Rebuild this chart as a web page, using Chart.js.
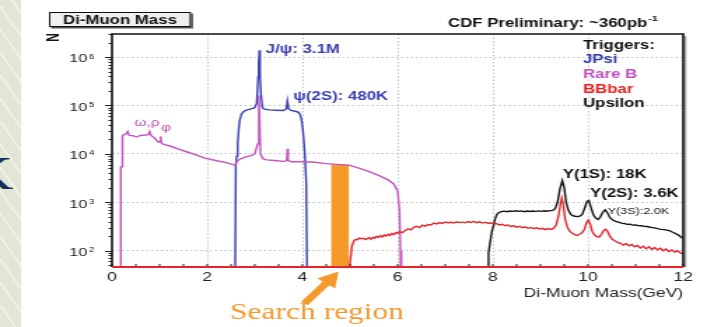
<!DOCTYPE html>
<html>
<head>
<meta charset="utf-8">
<title>Di-Muon Mass</title>
<script src="https://cdn.jsdelivr.net/npm/chart.js@4.4.1/dist/chart.umd.min.js"></script>
<style>
  html, body { margin: 0; padding: 0; background: #fff; overflow: hidden; }
  /* the slide picture is stretched sideways, so draw narrow and widen it */
  #stage { position: absolute; left: 0; top: 0; width: 503px; height: 327px;
           transform: scaleX(1.4); transform-origin: 0 0; }
  #chart { display: block; }
</style>
</head>
<body>
<div id="stage"><canvas id="chart" width="503" height="327"></canvas></div>
<script>
// JPsi trigger (blue)
const jpsiMass = [2.58, 2.60, 2.62, 2.64, 2.66, 2.68, 2.72, 2.76, 2.82, 2.90, 3.00, 3.04, 3.07, 3.08, 3.095, 3.11, 3.13, 3.16, 3.20, 3.30, 3.45, 3.60, 3.66, 3.685, 3.71, 3.76, 3.85, 3.92, 3.96, 3.99, 4.02, 4.05, 4.08, 4.11]
const jpsiCount = [1, 5800, 9000, 16000, 30000, 48000, 66000, 74000, 80000, 84000, 90000, 110000, 390000, 700000, 1380000, 400000, 170000, 90000, 84000, 81000, 80000, 79000, 85000, 125000, 86000, 79000, 76000, 72000, 62000, 45000, 25000, 10000, 2500, 1]

// Rare B trigger (magenta)
const rareBMass = [0.18, 0.185, 0.21, 0.22, 0.26, 0.30, 0.33, 0.36, 0.45, 0.52, 0.60, 0.70, 0.76, 0.79, 0.82, 0.90, 0.97, 1.00, 1.02, 1.04, 1.10, 1.25, 1.40, 1.55, 1.75, 1.95, 2.20, 2.40, 2.59, 2.62, 2.70, 2.80, 2.92, 3.00, 3.06, 3.085, 3.10, 3.12, 3.17, 3.25, 3.40, 3.60, 3.67, 3.685, 3.70, 3.76, 3.90, 4.20, 4.50, 4.80, 5.00, 5.20, 5.40, 5.60, 5.80, 5.92, 6.00, 6.04, 6.06, 6.08]
const rareBCount = [1, 5400, 5400, 24000, 25000, 26000, 29000, 24000, 23500, 22500, 24000, 24500, 25000, 29000, 24000, 21000, 17500, 18000, 23000, 16500, 15500, 14200, 12600, 11200, 9600, 8200, 7200, 6600, 5800, 7000, 7900, 8600, 9200, 10000, 16000, 162000, 60000, 10000, 7900, 7500, 7300, 7000, 7200, 12700, 7400, 6900, 6900, 6800, 6300, 6000, 5800, 5000, 4300, 3600, 2900, 2400, 1700, 700, 100, 1]

// BBbar trigger (red)
const bbbarMass = [4.99, 5.00, 5.04, 5.08, 5.12, 5.16, 5.20, 5.24, 5.28, 5.32, 5.36, 5.40, 5.44, 5.48, 5.52, 5.56, 5.60, 5.64, 5.68, 5.72, 5.76, 5.80, 5.84, 5.88, 5.92, 5.96, 6.00,
  6.04, 6.10, 6.16, 6.22, 6.28, 6.34, 6.40, 6.46, 6.52, 6.58, 6.64, 6.70, 6.76, 6.82, 6.88, 6.94, 7.00, 7.06, 7.12, 7.18, 7.24, 7.30, 7.36, 7.42, 7.48, 7.54, 7.60, 7.66, 7.72, 7.78, 7.84, 7.90, 7.96,
  8.02, 8.08, 8.14, 8.20, 8.26, 8.32, 8.38, 8.44, 8.50, 8.56, 8.62, 8.68, 8.74, 8.80, 8.86, 8.92, 8.98, 9.04, 9.10, 9.16, 9.22, 9.28,
  9.33, 9.38, 9.42, 9.45, 9.48, 9.52, 9.57, 9.62, 9.67, 9.72, 9.77, 9.82, 9.87, 9.92, 9.97,
  10.01, 10.05, 10.09, 10.14, 10.19, 10.24, 10.29, 10.33, 10.37, 10.41, 10.46, 10.51, 10.56,
  10.62, 10.68, 10.74, 10.80, 10.86, 10.92, 10.98, 11.04, 11.10, 11.16, 11.22, 11.28, 11.34, 11.40, 11.46, 11.52, 11.58, 11.64, 11.70, 11.76, 11.82, 11.88, 11.94, 11.99]
const bbbarCount = [1, 55, 125, 158, 172, 168, 184, 176, 181, 170, 178, 186, 172, 190, 181, 198, 187, 205, 192, 210, 201, 218, 206, 226, 214, 236, 228,
  248, 236, 262, 284, 270, 305, 318, 300, 336, 322, 348, 338, 372, 356, 380, 366, 392, 378, 386, 372, 395, 380, 388, 376, 398, 384, 402, 380, 395, 372, 388, 366, 378,
  356, 362, 340, 352, 328, 338, 316, 326, 306, 318, 298, 310, 290, 302, 284, 296, 280, 290, 272, 286, 274, 292,
  340, 520, 900, 1220, 900, 440, 300, 250, 228, 214, 206, 218, 232, 270, 380,
  430, 350, 250, 208, 196, 192, 225, 262, 277, 250, 200, 172, 160,
  148, 142, 130, 140, 126, 134, 120, 128, 114, 124, 110, 120, 106, 116, 104, 112, 100, 108, 96, 104, 94, 100, 90, 86]

// Upsilon trigger (black)
const upsilonMass = [7.90, 7.91, 7.94, 7.98, 8.01, 8.05, 8.08, 8.12, 8.18, 8.24, 8.30, 8.36, 8.42, 8.48, 8.54, 8.60, 8.66, 8.72, 8.78, 8.84, 8.90, 8.96, 9.02, 9.08, 9.14, 9.20, 9.26,
  9.31, 9.36, 9.41, 9.46, 9.50, 9.54, 9.59, 9.64, 9.70, 9.76, 9.82, 9.88, 9.93, 9.98,
  10.02, 10.06, 10.11, 10.16, 10.21, 10.26, 10.31, 10.36, 10.41, 10.46,
  10.52, 10.58, 10.64, 10.70, 10.76, 10.82, 10.88, 10.94, 11.00, 11.06, 11.12, 11.18, 11.24, 11.30, 11.36, 11.42, 11.48, 11.54, 11.60, 11.66, 11.72, 11.78, 11.84, 11.90, 11.95, 11.99]
const upsilonCount = [1, 90, 142, 250, 315, 460, 550, 610, 640, 655, 640, 660, 648, 666, 650, 662, 640, 658, 645, 662, 648, 665, 650, 668, 655, 672, 680,
  740, 1000, 1900, 2800, 2000, 1000, 680, 560, 520, 505, 515, 560, 760, 1050,
  1090, 800, 560, 470, 440, 500, 620, 695, 600, 480,
  430, 405, 388, 372, 365, 350, 352, 338, 340, 330, 328, 318, 315, 305, 300, 292, 282, 276, 272, 266, 258, 240, 226, 210, 192, 180]

// search window (orange band)
const searchMass = [4.60, 4.98]
const searchCount = [6000, 6000]

const massLabels = [0, 2, 4, 6, 8, 10, 12]
const countExponents = [2, 3, 4, 5, 6]

const pts = (xs, ys) => xs.map((x, i) => ({x: x, y: ys[i]}))
const isDecade = v => Math.abs(Math.log10(v) - Math.round(Math.log10(v))) < 1e-9
const font = (size, bold) => (bold ? 'bold ' : '') + size + 'px "Liberation Sans", Arial, sans-serif'

const decor = {
  id: 'decor',
  beforeDraw(chart) {
    const c = chart.ctx
    c.save()
    c.fillStyle = '#fff'
    c.fillRect(0, 0, chart.width, chart.height)
    // bit of the slide background on the left
    c.fillStyle = '#e3e6d4'
    c.fillRect(0, 0, 15, chart.height)
    c.strokeStyle = 'rgba(250,251,244,0.7)'
    c.lineWidth = 1.5
    for (let k = -40; k < 340; k += 23) {
      c.beginPath(); c.moveTo(0, k); c.lineTo(15, k + 30); c.stroke()
    }
    c.fillStyle = '#12305c'
    c.font = '46px "Liberation Serif", "Times New Roman", serif'
    c.textAlign = 'right'
    c.fillText('K', 9.6, 189)
    c.restore()
  },
  afterDatasetsDraw(chart) {
    const c = chart.ctx, a = chart.chartArea
    const xs = chart.scales.x, ys = chart.scales.y
    c.save()
    c.strokeStyle = '#222'
    c.lineWidth = 1
    ys.ticks.forEach(t => {
      const y = Math.round(ys.getPixelForValue(t.value)) + 0.5
      const len = isDecade(t.value) ? 5 : 2.5
      c.beginPath(); c.moveTo(a.left - len, y); c.lineTo(a.left, y); c.stroke()
    })
    xs.ticks.forEach(t => {
      const x = xs.getPixelForValue(t.value)
      c.beginPath(); c.moveTo(x, a.bottom); c.lineTo(x, a.bottom - 3); c.stroke()
    })
    // frame with a little shadow on the right
    c.strokeStyle = '#9a9a9a'
    c.lineWidth = 1.2
    c.beginPath(); c.moveTo(a.right + 1.6, a.top + 2); c.lineTo(a.right + 1.6, a.bottom); c.stroke()
    c.strokeStyle = '#111'
    c.lineWidth = 1.6
    c.beginPath()
    c.moveTo(a.left, a.bottom); c.lineTo(a.left, a.top); c.lineTo(a.right, a.top); c.lineTo(a.right, a.bottom)
    c.stroke()
    // empty BBbar bins lie on the floor
    c.strokeStyle = '#e3262b'
    c.lineWidth = 2
    c.beginPath(); c.moveTo(a.left, a.bottom); c.lineTo(a.right, a.bottom); c.stroke()
    c.restore()
  },
  afterDraw(chart) {
    const c = chart.ctx, xs = chart.scales.x, ys = chart.scales.y
    c.save()
    c.textBaseline = 'alphabetic'

    // axis labels
    c.fillStyle = '#222'
    countExponents.forEach(e => {
      const y = ys.getPixelForValue(Math.pow(10, e))
      c.font = font(11.5)
      c.textAlign = 'right'
      c.fillText('10', 62.4, y + 5.3)
      c.font = font(7)
      c.textAlign = 'left'
      c.fillText(String(e), 63.6, y + 1.5)
    })
    c.font = font(12.5)
    c.textAlign = 'center'
    massLabels.forEach(v => c.fillText(String(v), xs.getPixelForValue(v), 281))
    c.textAlign = 'right'
    c.fillText('Di-Muon Mass(GeV)', 488, 296.5)

    // title box
    c.fillStyle = '#555'
    c.fillRect(36.5, 13.5, 101.4, 15)
    c.fillStyle = '#efefef'
    c.fillRect(35, 12, 101.4, 15)
    c.strokeStyle = '#111'
    c.lineWidth = 1
    c.strokeRect(35.5, 12.5, 100.4, 14)
    c.fillStyle = '#111'
    c.font = font(12, true)
    c.textAlign = 'center'
    c.fillText('Di-Muon Mass', 85.7, 24)

    // N, rotated
    c.save()
    c.translate(38.3, 37.5)
    c.rotate(-Math.PI / 2)
    c.textBaseline = 'middle'
    c.fillText('N', 0, 0)
    c.restore()

    // CDF Preliminary
    c.textAlign = 'left'
    c.font = font(12, true)
    const head = 'CDF Preliminary: ~360pb'
    c.fillText(head, 320, 27)
    const hw = c.measureText(head).width
    c.font = font(8, true)
    c.fillText('-1', 320 + hw + 0.5, 20.5)

    // trigger list
    c.font = font(12, true)
    c.fillStyle = '#111'; c.fillText('Triggers:', 416.4, 49)
    c.fillStyle = '#2e3aa8'; c.fillText('JPsi', 416.4, 63.3)
    c.fillStyle = '#c14fbf'; c.fillText('Rare B', 416.4, 78)
    c.fillStyle = '#e3231f'; c.fillText('BBbar', 416.4, 92.7)
    c.fillStyle = '#111'; c.fillText('Upsilon', 416.4, 106.7)

    // resonance labels
    c.fillStyle = '#3b40b0'
    c.fillText('J/\u03c8: 3.1M', 189.8, 53)
    c.fillText('\u03c8(2S): 480K', 209.5, 100)
    c.fillStyle = '#bb4db8'
    c.font = font(11)
    c.fillText('\u03c9,\u03c1', 96, 126)
    c.fillText('\u03c6', 115, 131)
    c.fillStyle = '#111'
    c.font = font(12, true)
    c.fillText('\u03a5(1S): 18K', 401.9, 178)
    c.fillText('\u03a5(2S): 3.6K', 421.4, 196.7)
    c.font = font(9)
    c.fillText('\u03a5(3S):2.0K', 434, 214)

    // search region callout
    c.fillStyle = '#f39a2b'
    c.strokeStyle = '#f39a2b'
    c.font = '22.5px "Liberation Serif", "Times New Roman", serif'
    c.fillText('Search region', 164.3, 319)
    c.lineWidth = 6
    c.beginPath(); c.moveTo(217.5, 303.5); c.lineTo(233.5, 282.5); c.stroke()
    c.beginPath()
    c.moveTo(241.8, 271.5); c.lineTo(239.4, 288.4); c.lineTo(226.6, 278.6); c.closePath()
    c.fill()

    c.restore()
  }
}

const line = (data, color) => ({
  data: data,
  borderColor: color,
  borderWidth: 1.4,
  pointRadius: 0,
  tension: 0,
  fill: false
})

new Chart(document.getElementById('chart'), {
  type: 'line',
  data: {
    datasets: [
      line(pts(bbbarMass, bbbarCount), '#e3262b'),
      line(pts(rareBMass, rareBCount), '#c454c2'),
      line(pts(jpsiMass, jpsiCount), '#3b40b5'),
      line(pts(upsilonMass, upsilonCount), '#151515'),
      {
        data: pts(searchMass, searchCount),
        borderWidth: 0,
        pointRadius: 0,
        backgroundColor: '#f39a2b',
        fill: 'start'
      }
    ]
  },
  options: {
    responsive: false,
    animation: false,
    devicePixelRatio: 1,
    events: [],
    layout: { padding: { top: 34, right: 15, left: 0, bottom: 0 } },
    plugins: { legend: { display: false }, tooltip: { enabled: false } },
    scales: {
      x: {
        type: 'linear',
        min: 0,
        max: 12,
        ticks: { display: false, stepSize: 0.5 },
        afterFit(scale) { scale.height = 60 },
        grid: {
          drawTicks: false,
          color: ctx => (ctx.tick && ctx.tick.value % 2 === 0 && ctx.tick.value > 0 && ctx.tick.value < 12) ? '#c2c2c2' : 'rgba(0,0,0,0)'
        },
        border: { display: false, dash: [1.5, 2] }
      },
      y: {
        type: 'logarithmic',
        min: 46,
        max: 3.0e6,
        ticks: { display: false },
        afterBuildTicks(scale) {
          const list = []
          for (let e = 1; e <= 6; e++) {
            for (let m = 1; m <= 9; m++) {
              const v = m * Math.pow(10, e)
              if (v >= scale.min && v <= scale.max) list.push({value: v})
            }
          }
          scale.ticks = list
        },
        afterFit(scale) { scale.width = 80 },
        grid: {
          drawTicks: false,
          color: ctx => (ctx.tick && isDecade(ctx.tick.value)) ? '#c2c2c2' : 'rgba(0,0,0,0)'
        },
        border: { display: false, dash: [1.5, 2] }
      }
    }
  },
  plugins: [decor]
})
</script>
</body>
</html>
